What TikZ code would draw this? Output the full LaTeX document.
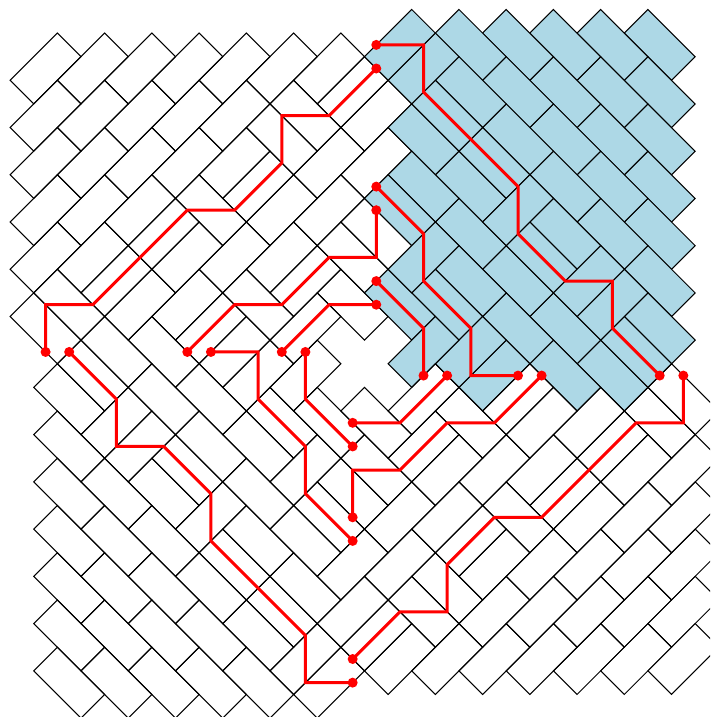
\documentclass[tikz,border=0pt]{standalone}
\usepackage{xcolor}
\definecolor{tileblue}{RGB}{173,216,230}
\newcommand{\tileN}[2]{\draw[tile] (#1,#2)--++(2,-2)--++(1,1)--++(-2,2)--cycle;}
\newcommand{\tileS}[2]{\draw[tile] (#1,#2)--++(1,-1)--++(2,2)--++(-1,1)--cycle;}
\begin{document}
\begin{tikzpicture}[
  x=23.62pt,y=-23.62pt,
  tile/.style={draw=black,line width=1.05pt},
  dot/.style={circle,fill=red,inner sep=0pt,minimum size=10pt},
  redpath/.style={draw=red,line width=3pt}
]
\path[use as bounding box,clip] (-0.43,-0.40) rectangle (29.63,29.955);
\foreach \ang/\fillc in {0/none,-90/tileblue,-180/none,-270/none}{
  \begin{scope}[rotate around={\ang:(15,15)},tile/.append style={fill=\fillc}]
    \foreach \i/\j in {0/3,2/3,4/3,6/3,8/3,10/3,12/3,
                       0/5,2/5,4/5,6/5,8/5,14/5,
                       0/7,2/7,4/7,6/7,8/7,12/7,14/7,
                       0/9,2/9,4/9,10/9,12/9,
                       0/11,2/11,6/11,8/11,10/11,
                       4/13,6/13,
                       13/4,9/8,5/10,3/12,11/12,7/14,11/14}
      {\tileN{\i}{\j}}
    \foreach \i/\j in {11/4,10/5,7/8,1/12,0/13,14/9,13/10,9/12,13/12}
      {\tileS{\i}{\j}}
  \end{scope}
}
\foreach \ang/\s in {0/a,-90/b,-180/c,-270/d}{
  \begin{scope}[rotate around={\ang:(15,15)}]
    \node[dot] (\s top1) at (15.5,2.5) {};
    \node[dot] (\s end1) at (1.5,14.5) {};
    \node[dot] (\s top2) at (15.5,8.5) {};
    \node[dot] (\s end2) at (7.5,14.5) {};
    \node[dot] (\s top3) at (15.5,12.5) {};
    \node[dot] (\s end3) at (11.5,14.5) {};
    \draw[redpath] (\s top1.center)--(13.5,4.5)--(11.5,4.5)--(11.5,6.5)--(9.5,8.5)--(7.5,8.5)--(3.5,12.5)--(1.5,12.5)--(\s end1.center);
    \draw[redpath] (\s top2.center)--(15.5,10.5)--(13.5,10.5)--(11.5,12.5)--(9.5,12.5)--(\s end2.center);
    \draw[redpath] (\s top3.center)--(13.5,12.5)--(\s end3.center);
  \end{scope}
}
\end{tikzpicture}
\end{document}
